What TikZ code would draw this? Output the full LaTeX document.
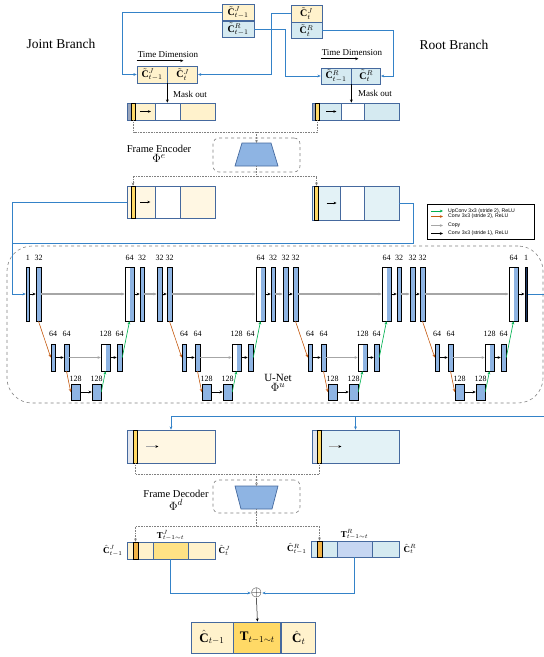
\documentclass[tikz,border=0pt]{standalone}
\usepackage{amssymb}
\usepackage{mathtools}
\usepackage{fontspec}
\setmainfont{Liberation Serif}
\setsansfont{Liberation Sans}
\usepackage{tikz}
\usepackage{xcolor}
\usetikzlibrary{
    arrows.meta,
    calc,
    positioning
}

\definecolor{jointfill}{HTML}{FFF2CC}
\definecolor{rootfill}{HTML}{D5EAF1}
\definecolor{jointlight}{HTML}{FFF7E3}
\definecolor{rootlight}{HTML}{E3F2F6}
\definecolor{boxedge}{HTML}{45699E}
\definecolor{barblue}{HTML}{8EB4E3}
\definecolor{bardark}{HTML}{1F3864}
\definecolor{linkblue}{HTML}{3482C8}
\definecolor{baryellow}{HTML}{FFD966}
\definecolor{resyellow}{HTML}{F2B447}
\definecolor{tjoint}{HTML}{FFE285}
\definecolor{troot}{HTML}{C6D6F2}
\definecolor{convorange}{HTML}{C55A11}
\definecolor{upgreen}{HTML}{00B050}
\definecolor{copygray}{HTML}{A6A6A6}
\definecolor{maskgray}{HTML}{9AA6BC}
\definecolor{decgray}{HTML}{E2E6EF}

\tikzset{
    title/.style={font=\fontsize{13.5}{15}\selectfont, inner sep=1pt},
    lbl/.style={font=\fontsize{9}{10}\selectfont, inner sep=1pt},
    steplbl/.style={font=\fontsize{10.5}{12}\selectfont, inner sep=1pt},
    philbl/.style={font=\fontsize{13}{14}\selectfont, inner sep=0.5pt},
    cbox/.style={draw=boxedge, line width=0.7pt, inner sep=0pt, font=\fontsize{10}{11}\selectfont},
    strip/.style={draw=boxedge, line width=0.7pt, inner sep=0pt},
    ybar/.style={draw=black, fill=baryellow, line width=0.6pt, inner sep=0pt, minimum width=4pt},
    tallbar/.style={draw=black, fill=barblue, line width=0.5pt, inner sep=0pt, minimum width=5pt, minimum height=54pt},
    midbar/.style={tallbar, minimum height=27pt},
    lowbox/.style={tallbar, minimum width=9pt, minimum height=16pt},
    catbar/.style={fill=white, path picture={\fill[barblue] (path picture bounding box.north) rectangle (path picture bounding box.south east);}},
    numlbl/.style={font=\fontsize{8}{8}\selectfont, inner sep=0.5pt},
    convarr/.style={->, line width=0.6pt},
    copyarr/.style={->, draw=copygray, line width=1.2pt},
    downarr/.style={->, draw=convorange, line width=0.6pt},
    uparr/.style={->, draw=upgreen, line width=0.6pt},
    shiftarr/.style={-{Stealth[length=3pt, width=2.6pt, color=black]}, line width=0.6pt},
    bluelink/.style={draw=linkblue, line width=0.8pt},
    dotline/.style={draw=gray, densely dotted, line width=0.6pt},
    dashframe/.style={draw=gray, dashed, line width=0.6pt, rounded corners=6pt, inner sep=0pt},
    coder/.style={fill=barblue, draw=boxedge, line width=0.7pt},
    legtext/.style={font=\sffamily\fontsize{5.2}{6}\selectfont, inner sep=0pt, anchor=west},
    mathlbl/.style={font=\fontsize{9}{10}\selectfont, inner sep=1pt},
    finalbox/.style={draw=boxedge, line width=0.9pt, inner sep=0pt, minimum height=31pt, font=\fontsize{13}{14}\selectfont}
}

\begin{document}
\begin{tikzpicture}[x=1pt, y=-1pt, >={Stealth[length=3.2pt, width=2.8pt]}]
\useasboundingbox (0,0) rectangle (544,657);

% branch titles
\node[title] (jbr) at (61,44) {Joint Branch};
\node[title] (rbr) at (454,45) {Root Branch};

% input frames
\node[cbox, fill=jointfill, minimum width=32pt, minimum height=16pt] (cjp) at (238,12.5) {$\tilde{\mathbf{C}}^{J}_{t-1}$};
\node[cbox, fill=rootfill, minimum width=32pt, minimum height=16pt, below=0pt of cjp] (crp) {$\tilde{\mathbf{C}}^{R}_{t-1}$};
\node[cbox, fill=jointfill, minimum width=31pt, minimum height=17pt] (cjt) at (306.5,13.5) {$\tilde{\mathbf{C}}^{J}_{t}$};
\node[cbox, fill=rootfill, minimum width=31pt, minimum height=16pt, below=0pt of cjt] (crt) {$\tilde{\mathbf{C}}^{R}_{t}$};

% concatenation along time
\node[cbox, fill=jointfill, minimum width=30pt, minimum height=17pt] (jc1) at (152,74.5) {$\tilde{\mathbf{C}}^{J}_{t-1}$};
\node[cbox, fill=jointfill, minimum width=30pt, minimum height=17pt, right=0pt of jc1] (jc2) {$\tilde{\mathbf{C}}^{J}_{t}$};
\node[cbox, fill=rootfill, minimum width=30pt, minimum height=16pt] (rc1) at (336,76) {$\tilde{\mathbf{C}}^{R}_{t-1}$};
\node[cbox, fill=rootfill, minimum width=29pt, minimum height=16pt, right=0pt of rc1] (rc2) {$\tilde{\mathbf{C}}^{R}_{t}$};

\draw[bluelink, ->] (cjp.west) -- ++(-99,0) |- (jc1.west);
\draw[bluelink, ->] (cjt.west) -- ++(-19,0) |- (jc2.east);
\draw[bluelink, ->] (crp.east) -- ++(31,0) |- (rc1.west);
\draw[bluelink, ->] (crt.east) -- ++(71,0) |- (rc2.east);

\node[lbl] (tdj) at (168,55) {Time Dimension};
\node[lbl] (tdr) at (352,53) {Time Dimension};
\draw[convarr] ([yshift=-1.5pt]tdj.south west) -- ([xshift=-16pt, yshift=-1.5pt]tdj.south east);
\draw[convarr] ([yshift=-1.5pt]tdr.south west) -- ([xshift=-25pt, yshift=-1.5pt]tdr.south east);

% masked frames
\node[strip, fill=jointfill, minimum width=88pt, minimum height=17pt] (jm) at (171,111.5) {};
\node[strip, fill=maskgray, minimum width=4pt, minimum height=17pt, anchor=west] (jmg) at (jm.west) {};
\node[ybar, minimum height=17pt, right=0pt of jmg] (jmb) {};
\node[strip, fill=white, minimum width=25pt, minimum height=17pt] (jmw) at (167.5,111.5) {};
\draw[shiftarr] ([xshift=4pt]jmb.east) -- ([xshift=15pt]jmb.east);

\node[strip, fill=rootfill, minimum width=87pt, minimum height=17pt] (rm) at (355.5,111.5) {};
\node[strip, fill=maskgray, minimum width=3pt, minimum height=17pt, anchor=west] (rmg) at (rm.west) {};
\node[ybar, minimum width=3.5pt, minimum height=17pt, right=0pt of rmg] (rmb) {};
\node[strip, fill=white, minimum width=23pt, minimum height=17pt] (rmw) at (352.5,111.5) {};
\draw[shiftarr] ([xshift=7pt]rmb.east) -- ([xshift=17pt]rmb.east);

\draw[convarr, line width=0.7pt] (jc1.south east) -- (jc1.south east |- jmw.north);
\draw[convarr, line width=0.7pt] (rc1.south east) -- (rc1.south east |- rmw.north);
\node[lbl, anchor=west] (mj) at (172,94) {Mask out};
\node[lbl, anchor=west] (mr) at (357,93) {Mask out};

% frame encoder
\node[dashframe, minimum width=87pt, minimum height=34pt] (encf) at (256.5,155) {};
\draw[coder] (235,166) -- (242,143) -- (271,143) -- (278,166) -- cycle;
\coordinate (encn) at (256.5,143);
\coordinate (encs) at (256.5,166);
\node[steplbl] (fenc) at (159,149) {Frame Encoder};
\node[philbl, below=0pt of fenc] (fencphi) {$\Phi^{e}$};

\coordinate (encin) at (256.5,132);
\coordinate (encout) at (256.5,176);
\draw[dotline] (jmb.south) |- (encin);
\draw[dotline] (rmb.south) |- (encin);
\draw[dotline, ->] (encin) -- (encn);
\draw[dotline] (encs) -- (encout);

% encoded frames
\node[strip, fill=jointlight, minimum width=88pt, minimum height=32pt] (je) at (171,202) {};
\node[ybar, minimum height=32pt] (jeb) at (133,202) {};
\node[strip, fill=white, minimum width=25pt, minimum height=32pt] (jew) at (167.5,202) {};
\draw[shiftarr] ([xshift=5pt]jeb.east) -- ([xshift=15pt]jeb.east);

\node[strip, fill=rootlight, minimum width=87pt, minimum height=34pt] (re) at (355.5,203) {};
\node[ybar, minimum width=3.5pt, minimum height=34pt] (reb) at (316.5,203) {};
\node[strip, fill=white, minimum width=24pt, minimum height=34pt] (rew) at (352,203) {};
\draw[shiftarr] ([xshift=8pt]reb.east) -- ([xshift=18pt]reb.east);

\draw[dotline, ->] (encout) -| (jeb.north);
\draw[dotline, ->] (encout) -| (reb.north);

% legend
\node[draw, line width=0.8pt, inner sep=0pt, minimum width=107pt, minimum height=35pt] (legend) at (480.5,221.5) {};
\node[legtext] (lg1) at (448,211) {UpConv 3x3 (stride 2), ReLU};
\node[legtext] (lg2) at (448,216.5) {Conv 3x3 (stride 2), ReLU};
\node[legtext] (lg3) at (448,225.5) {Copy};
\node[legtext] (lg4) at (448,233.5) {Conv 3x3 (stride 1), ReLU};
\draw[uparr] ([xshift=-17pt]lg1.west) -- ([xshift=-5pt]lg1.west);
\draw[downarr] ([xshift=-17pt]lg2.west) -- ([xshift=-5pt]lg2.west);
\draw[copyarr] ([xshift=-17pt]lg3.west) -- ([xshift=-5pt]lg3.west);
\draw[convarr] ([xshift=-17pt]lg4.west) -- ([xshift=-5pt]lg4.west);

% U-Net
\node[dashframe, rounded corners=25pt, minimum width=536pt, minimum height=157pt] (unet) at (275,324.5) {};
\node[steplbl, font=\fontsize{11}{12}\selectfont] (unlbl) at (278,378) {U-Net};
\node[philbl, below=0pt of unlbl] (unphi) {$\Phi^{u}$};

\foreach \s/\k/\al/\aw/\jl/\jw/\jc in {26/1/1/3.5/32/4/barblue, 157/2/32/5/32/4/barblue, 283/3/32/5/32/4/barblue, 410/4/32/5/1/2.5/bardark}{
    % full resolution
    \node[tallbar, minimum width=\aw pt] (a\k) at (\s+\aw/2,294) {};
    \node[tallbar] (b\k) at (\s+12.5,294) {};
    \node[tallbar, catbar, minimum width=9pt] (i\k) at (\s+103.5,294) {};
    \node[tallbar, minimum width=\jw pt, fill=\jc] (j\k) at (\s+116,294) {};
    % half resolution
    \node[midbar, minimum width=4pt] (c\k) at (\s+27,357.5) {};
    \node[midbar] (d\k) at (\s+40.5,357.5) {};
    \node[midbar, catbar, minimum width=9pt] (g\k) at (\s+79.5,357.5) {};
    \node[midbar] (h\k) at (\s+93.5,357.5) {};
    % quarter resolution
    \node[lowbox] (e\k) at (\s+49.5,392) {};
    \node[lowbox] (f\k) at (\s+70.5,392) {};
    % channels
    \node[numlbl, above=5.5pt of a\k] (na\k) {\al};
    \node[numlbl, above=5.5pt of b\k] (nb\k) {32};
    \node[numlbl, above=5.5pt of i\k] (ni\k) {64};
    \node[numlbl, above=5.5pt of j\k] (nj\k) {\jl};
    \node[numlbl, above=6.5pt of c\k] (nc\k) {64};
    \node[numlbl, above=6.5pt of d\k] (nd\k) {64};
    \node[numlbl, above=6.5pt of g\k] (ng\k) {128};
    \node[numlbl, above=6.5pt of h\k] (nh\k) {64};
    \node[numlbl, above=1.5pt of e\k] (ne\k) {128};
    \node[numlbl, above=1.5pt of f\k] (nf\k) {128};
    % arrows
    \draw[convarr] (a\k.east) -- (b\k.west);
    \draw[copyarr] (b\k.east) -- (i\k.west);
    \draw[convarr] (i\k.east) -- (j\k.west);
    \draw[convarr] (c\k.east) -- (d\k.west);
    \draw[copyarr] (d\k.east) -- (g\k.west);
    \draw[convarr] (g\k.east) -- (h\k.west);
    \draw[convarr] (e\k.east) -- (f\k.west);
    \draw[downarr] (b\k.south) -- (c\k.west);
    \draw[downarr] (d\k.south) -- (e\k.west);
    \draw[uparr] (f\k.east) -- (g\k.south);
    \draw[uparr] (h\k.east) -- (i\k.south);
}
\foreach \k/\n in {1/2, 2/3, 3/4}
    \draw[copyarr] (j\k.east) -- (a\n.west);

\coordinate (unin) at (12,294);
\coordinate (rjoin) at (12,243);
\coordinate (unout) at (544,294);
\coordinate (unret) at (544,416);
\draw[bluelink] (je.west) -| (unin);
\draw[bluelink, ->] (unin) -- (a1.west);
\draw[bluelink] (re.east) -- ++(14,0) |- (rjoin);
\draw[bluelink] (j4.east) -- (unout);

% decoded features
\node[strip, fill=jointlight, minimum width=88pt, minimum height=33pt] (jd) at (171,446.5) {};
\node[strip, fill=decgray, minimum width=6pt, minimum height=33pt, anchor=west] (jdg) at (jd.west) {};
\node[ybar, minimum width=3.5pt, minimum height=33pt, right=0pt of jdg] (jdb) {};
\draw[shiftarr, draw=copygray] ([xshift=9pt]jdb.east) -- ([xshift=21pt]jdb.east);

\node[strip, fill=rootlight, minimum width=87pt, minimum height=33pt] (rd) at (355.5,446.5) {};
\node[strip, fill=decgray, minimum width=5pt, minimum height=33pt, anchor=west] (rdg) at (rd.west) {};
\node[ybar, minimum width=3.5pt, minimum height=33pt, right=0pt of rdg] (rdb) {};
\draw[shiftarr, draw=copygray] ([xshift=8pt]rdb.east) -- ([xshift=20pt]rdb.east);

\draw[bluelink, ->] (unret) -| (jd.north);
\draw[bluelink, ->] (unret) -| (rd.north);

% frame decoder
\node[dashframe, minimum width=87pt, minimum height=33pt] (decf) at (256.5,496.5) {};
\draw[coder] (235,486) -- (278,486) -- (272,509) -- (241,509) -- cycle;
\coordinate (decn) at (256.5,486);
\coordinate (decs) at (256.5,509);
\node[steplbl] (fdec) at (176,494) {Frame Decoder};
\node[philbl, below=0pt of fdec] (fdecphi) {$\Phi^{d}$};

\coordinate (decin) at (256.5,474);
\coordinate (decout) at (256.5,526);
\draw[dotline] (jdb.south) |- (decin);
\draw[dotline] (rdb.south) |- (decin);
\draw[dotline, ->] (decin) -- (decn);
\draw[dotline] (decs) -- (decout);

% decoded clips
\node[strip, fill=jointfill, minimum width=88pt, minimum height=17pt] (jr) at (171,550.5) {};
\node[ybar, fill=resyellow, minimum width=5pt, minimum height=17pt] (jrb) at (135.5,550.5) {};
\node[strip, fill=tjoint, minimum width=35pt, minimum height=17pt] (jt) at (170.5,550.5) {};
\node[mathlbl, above=0pt of jt] (jtl) {$\mathbf{T}^{J}_{t-1\sim t}$};
\node[mathlbl, left=3pt of jr] (jrl) {$\hat{\mathbf{C}}^{J}_{t-1}$};
\node[mathlbl, right=2pt of jr] (jrr) {$\hat{\mathbf{C}}^{J}_{t}$};

\node[strip, fill=rootfill, minimum width=88pt, minimum height=16pt] (rr) at (355,549) {};
\node[ybar, fill=resyellow, minimum width=5pt, minimum height=16pt] (rrb) at (319.5,549) {};
\node[strip, fill=troot, minimum width=35pt, minimum height=16pt] (rt) at (354.5,549) {};
\node[mathlbl, above=0pt of rt] (rtl) {$\mathbf{T}^{R}_{t-1\sim t}$};
\node[mathlbl, left=3pt of rr] (rrl) {$\hat{\mathbf{C}}^{R}_{t-1}$};
\node[mathlbl, right=3pt of rr] (rrr) {$\hat{\mathbf{C}}^{R}_{t}$};

\draw[dotline, ->] (decout) -| (jrb.north);
\draw[dotline, ->] (decout) -| (rrb.north);

% fusion
\node[font=\Large, inner sep=0pt] (oplus) at (256.5,593) {$\oplus$};
\draw[bluelink, ->] (jt.south) |- (oplus.west);
\draw[bluelink, ->] (rt.south) |- (oplus.east);

\node[finalbox, fill=jointfill, minimum width=42pt] (f1) at (212,637.5) {$\hat{\mathbf{C}}_{t-1}$};
\node[finalbox, fill=baryellow, minimum width=47pt, right=0pt of f1] (f2) {$\mathbf{T}_{t-1\sim t}$};
\node[finalbox, fill=jointfill, minimum width=34pt, right=0pt of f2] (f3) {$\hat{\mathbf{C}}_{t}$};
\draw[convarr, line width=0.5pt] (oplus.south) -- (f2.north);

\end{tikzpicture}
\end{document}
